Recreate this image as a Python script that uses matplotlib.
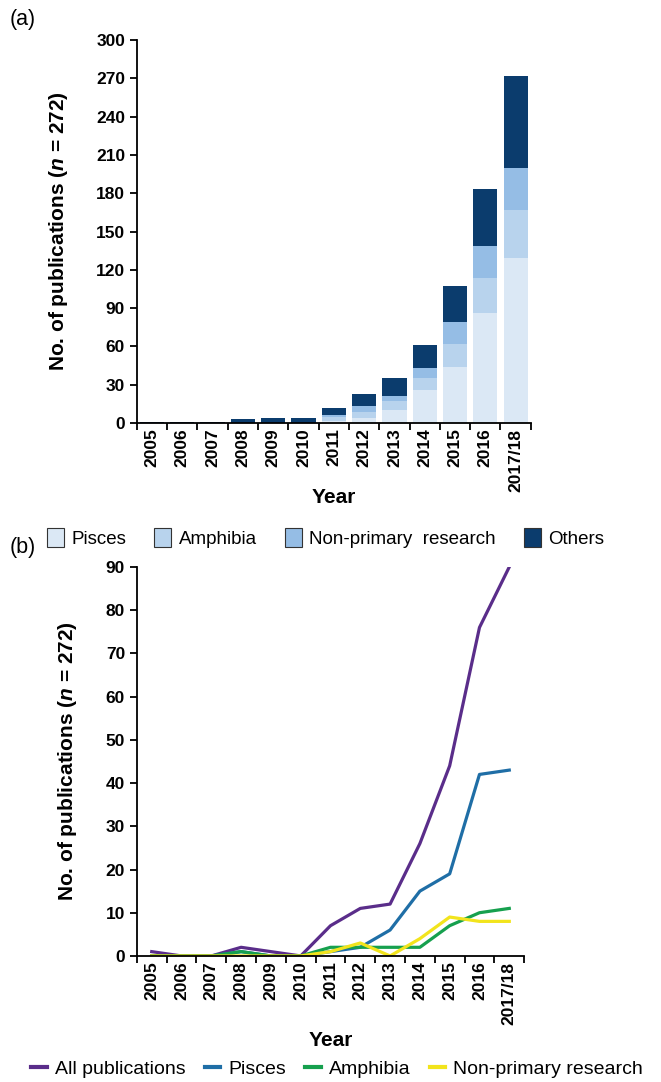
from matplotlib import pyplot as plt
from matplotlib.patches import Patch
from matplotlib.lines import Line2D
import numpy as np

plt.rcParams["font.family"] = ["Liberation Sans", "DejaVu Sans"]
plt.rcParams["mathtext.fontset"] = "custom"
plt.rcParams["mathtext.it"] = "Liberation Sans:italic:bold"
plt.rcParams["mathtext.rm"] = "Liberation Sans:bold"

years = ["2005", "2006", "2007", "2008", "2009", "2010", "2011",
         "2012", "2013", "2014", "2015", "2016", "2017/18"]

# (a) cumulative publications, stacked
bar_pisces   = [0, 0, 0, 0, 0, 0, 2, 4, 10, 26, 44, 86, 129]
bar_amphibia = [0, 0, 0, 0, 0, 0, 3, 5, 7, 9, 18, 28, 38]
bar_nonprim  = [0, 0, 0, 0, 0, 0, 1, 4, 4, 8, 17, 25, 33]
bar_others   = [1, 1, 1, 3, 4, 4, 6, 10, 14, 18, 28, 44, 72]

# (b) publications per year
line_all      = [1, 0, 0, 2, 1, 0, 7, 11, 12, 26, 44, 76, 90]
line_pisces   = [0, 0, 0, 1, 0, 0, 1, 2, 6, 15, 19, 42, 43]
line_amphibia = [0, 0, 0, 1, 0, 0, 2, 2, 2, 2, 7, 10, 11]
line_nonprim  = [0, 0, 0, 0, 0, 0, 1, 3, 0, 4, 9, 8, 8]

bar_colors = ["#dbe8f5", "#b8d3ed", "#95bde5", "#0b3c6d"]
line_colors = ["#5a2d8a", "#1f6ea6", "#16a04e", "#f2e41c"]

fig = plt.figure(figsize=(6.61, 10.82), dpi=100)
x = np.arange(len(years))


def style_axes(ax, ymax, ystep, year_y):
    ax.spines["top"].set_visible(False)
    ax.spines["right"].set_visible(False)
    ax.spines["left"].set_linewidth(1.3)
    ax.spines["bottom"].set_linewidth(1.3)
    ax.set_xlim(-0.5, len(years) - 0.5)
    ax.set_ylim(0, ymax)
    ax.set_yticks(np.arange(0, ymax + 1, ystep))
    ax.set_xticks(x)
    ax.set_xticklabels(years, rotation=90, fontsize=12.5, fontweight="bold")
    ax.set_xticks(np.arange(-0.5, len(years)), minor=True)
    ax.tick_params(axis="x", which="major", length=0, pad=4)
    ax.tick_params(axis="x", which="minor", length=5, width=1.3, direction="out")
    ax.tick_params(axis="y", length=5, width=1.3, direction="out", labelsize=12.5)
    for t in ax.get_yticklabels():
        t.set_fontweight("bold")
    ax.set_xlabel("Year", fontsize=15, fontweight="bold")
    ax.xaxis.set_label_coords(0.5, year_y)
    ax.set_ylabel("No. of publications ($n$ = 272)", fontsize=15,
                  fontweight="bold", labelpad=19)


# ---- (a) ----
ax1 = fig.add_axes([0.207, 0.609, 0.596, 0.354])
bottom = np.zeros(len(years))
labels_a = ["Pisces", "Amphibia", "Non-primary  research", "Others"]
for vals, col, lab in zip([bar_pisces, bar_amphibia, bar_nonprim, bar_others],
                          bar_colors, labels_a):
    ax1.bar(x, vals, width=0.8, bottom=bottom, color=col, label=lab)
    bottom += np.array(vals)
style_axes(ax1, 300, 30, -0.170)

handles_a = [Patch(facecolor=c, edgecolor="#333333", linewidth=0.8, label=l)
             for c, l in zip(bar_colors, labels_a)]
fig.legend(handles=handles_a, loc="center", bbox_to_anchor=(0.493, 1 - 538 / 1082),
           ncol=4, frameon=False, fontsize=13.5, handlelength=0.9,
           handleheight=1.2, handletextpad=0.4, columnspacing=1.5)

# ---- (b) ----
ax2 = fig.add_axes([0.207, 0.1165, 0.586, 0.3595])
labels_b = ["All publications", "Pisces", "Amphibia", "Non-primary research"]
series_b = [line_all, line_pisces, line_amphibia, line_nonprim]
for vals, col, lab in zip(series_b, line_colors, labels_b):
    ax2.plot(x, vals, color=col, linewidth=2.3, label=lab)
style_axes(ax2, 90, 10, -0.193)

handles_b = [Line2D([0], [0], color=c, linewidth=3, label=l)
             for c, l in zip(line_colors, labels_b)]
fig.legend(handles=handles_b, loc="center", bbox_to_anchor=(0.51, 1 - 1069 / 1082),
           ncol=4, frameon=False, fontsize=14, handlelength=0.8,
           handletextpad=0.4, columnspacing=1.0)

fig.text(0.015, 1 - 20 / 1082, "(a)", fontsize=15.5, va="center", ha="left")
fig.text(0.015, 1 - 548 / 1082, "(b)", fontsize=15.5, va="center", ha="left")

fig.savefig("out.png", dpi=100)
